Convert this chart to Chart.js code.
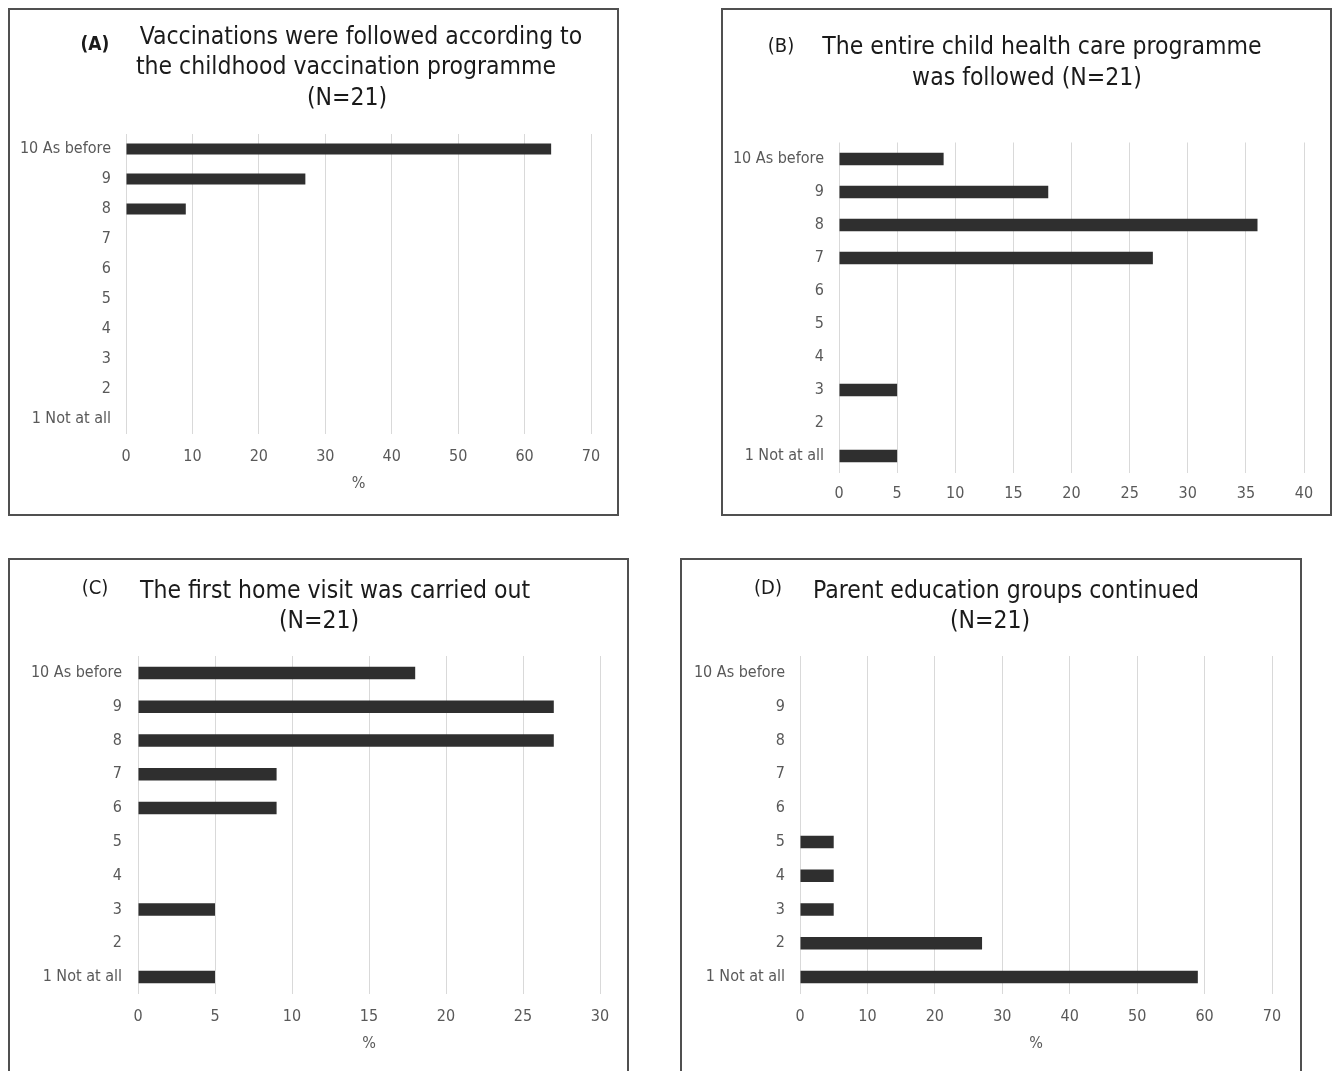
<!DOCTYPE html>
<html lang="en">
<head>
<meta charset="utf-8">
<title>Child health care services during the pandemic</title>
<script src="https://cdn.jsdelivr.net/npm/chart.js@4.4.1/dist/chart.umd.min.js"></script>
<style>
  html, body { margin: 0; padding: 0; background: #fff; }
  body { width: 1333px; height: 1071px; overflow: hidden; position: relative;
         font-family: 'DejaVu Sans Condensed', 'DejaVu Sans', sans-serif; }
  .panel { position: absolute; box-sizing: border-box; border: 2px solid #505050; background: #fff; }
  .panel canvas { position: absolute; left: 0; top: 0; }
  .tline { position: absolute; width: 600px; margin-left: -300px; text-align: center;
           font-size: 24.5px; line-height: 30px; color: #1a1a1a; white-space: nowrap; }
  .tag { position: absolute; width: 60px; margin-left: -30px; text-align: center;
         font-size: 20px; line-height: 22px; color: #1a1a1a; }
</style>
</head>
<body>

<div class="panel" style="left:8px;top:8px;width:611px;height:508px;"><canvas id="chartA" width="607" height="504"></canvas></div>
<div class="panel" style="left:721px;top:8px;width:611px;height:508px;"><canvas id="chartB" width="607" height="504"></canvas></div>
<div class="panel" style="left:8px;top:558px;width:621px;height:540px;"><canvas id="chartC" width="617" height="536"></canvas></div>
<div class="panel" style="left:680px;top:558px;width:622px;height:540px;"><canvas id="chartD" width="618" height="536"></canvas></div>

<!-- panel headings -->
<div class="tag" style="left:95px;top:32px;font-weight:bold;font-size:19px;">(A)</div>
<div class="tline" style="left:361px;top:21px;">Vaccinations were followed according to</div>
<div class="tline" style="left:346px;top:51px;">the childhood vaccination programme</div>
<div class="tline" style="left:347px;top:82px;">(N=21)</div>

<div class="tag" style="left:781px;top:34px;">(B)</div>
<div class="tline" style="left:1042px;top:31px;">The entire child health care programme</div>
<div class="tline" style="left:1027px;top:62px;">was followed (N=21)</div>

<div class="tag" style="left:95px;top:576px;">(C)</div>
<div class="tline" style="left:335px;top:575px;">The first home visit was carried out</div>
<div class="tline" style="left:319px;top:605px;">(N=21)</div>

<div class="tag" style="left:768px;top:576px;">(D)</div>
<div class="tline" style="left:1006px;top:575px;">Parent education groups continued</div>
<div class="tline" style="left:990px;top:605px;">(N=21)</div>

<script>
// Rating scale, top to bottom
const categories = ['10 As before', '9', '8', '7', '6', '5', '4', '3', '2', '1 Not at all'];

// Share of respondents (%) per rating, rounded to whole percent
const vaccinations  = [64, 27, 9, 0, 0, 0, 0, 0, 0, 0];
const programme     = [9, 18, 36, 27, 0, 0, 0, 5, 0, 5];
const homeVisit     = [18, 27, 27, 9, 9, 0, 0, 5, 0, 5];
const parentGroups  = [0, 0, 0, 0, 0, 5, 5, 5, 27, 59];

// Percentage axis ranges
const axisMax  = { A: 70, B: 40, C: 30, D: 70 };
const axisStep = { A: 10, B: 5,  C: 5,  D: 10 };

Chart.defaults.font.family = "'DejaVu Sans Condensed', 'DejaVu Sans', sans-serif";
Chart.defaults.color = '#595959';

function barChart(id, values, max, step, lay) {
  return new Chart(document.getElementById(id), {
    type: 'bar',
    data: {
      labels: categories,
      datasets: [{
        data: values,
        backgroundColor: '#2f2f2f',
        borderWidth: 0,
        categoryPercentage: 1,
        barPercentage: lay.bar
      }]
    },
    options: {
      indexAxis: 'y',
      responsive: false,
      devicePixelRatio: 1,
      animation: false,
      layout: { padding: { top: lay.top, right: lay.right, bottom: lay.bottom, left: 0 } },
      plugins: { legend: { display: false }, tooltip: { enabled: false }, title: { display: false } },
      scales: {
        x: {
          type: 'linear',
          min: 0, max: max,
          border: { display: false },
          grid: { color: '#d9d9d9', lineWidth: 1, drawTicks: false },
          ticks: { stepSize: step, padding: lay.xPad, font: { size: 16 }, color: '#595959' },
          title: { display: lay.showPct, text: '%', font: { size: 16 }, color: '#595959', padding: { top: 0, bottom: 1 } },
          afterFit: s => { s.height = lay.xH; }
        },
        y: {
          border: { display: false },
          grid: { display: false, drawTicks: false },
          ticks: { padding: lay.yPad, font: { size: 16 }, color: '#595959', autoSkip: false },
          afterFit: s => { s.width = lay.yW; }
        }
      }
    }
  });
}

barChart('chartA', vaccinations, axisMax.A, axisStep.A,
  { top: 124, right: 26, bottom: 20, xH: 60, yW: 116, xPad: 13, yPad: 15, bar: 0.37, showPct: true });
barChart('chartB', programme, axisMax.B, axisStep.B,
  { top: 132.5, right: 26, bottom: 1.5, xH: 40, yW: 116, xPad: 12, yPad: 15, bar: 0.38, showPct: false });
barChart('chartC', homeVisit, axisMax.C, axisStep.C,
  { top: 96, right: 27, bottom: 42, xH: 60, yW: 128, xPad: 13, yPad: 16, bar: 0.37, showPct: true });
barChart('chartD', parentGroups, axisMax.D, axisStep.D,
  { top: 96, right: 28, bottom: 42, xH: 60, yW: 118, xPad: 13, yPad: 15, bar: 0.37, showPct: true });
</script>
</body>
</html>
